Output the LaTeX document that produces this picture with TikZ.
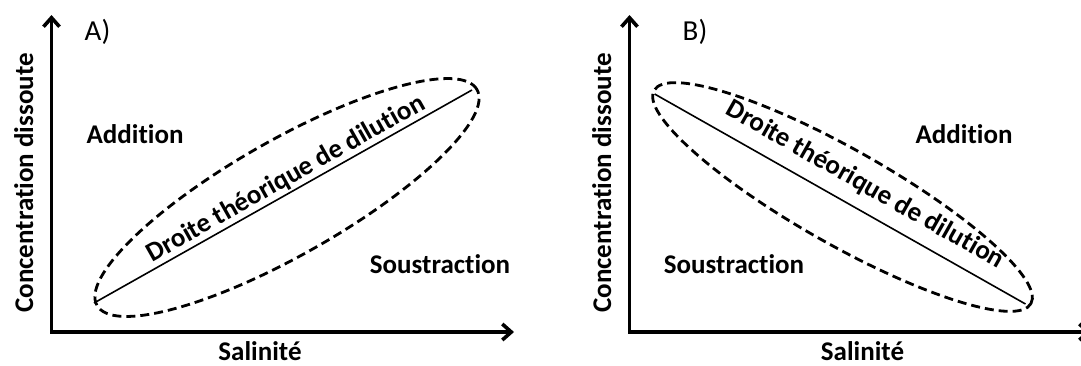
\documentclass[tikz,border=0pt]{standalone}
\usepackage{fontspec}
\setmainfont{Carlito}[Ligatures=NoCommon]
\usetikzlibrary{arrows.meta,shapes.geometric}
\begin{document}
\begin{tikzpicture}[x=1pt,y=-1pt,
  axis/.style={line width=3.6pt, line join=miter,
    {Straight Barb[length=9pt,width=16pt]}-{Straight Barb[length=9pt,width=16pt]}},
  lbl/.style={font=\fontsize{27}{32}\selectfont\bfseries, inner sep=0pt},
  panel/.style={font=\fontsize{29}{34}\selectfont, inner sep=0pt},
  envelope/.style={draw, ellipse, inner sep=0pt, line width=2.8pt,
    dash pattern=on 9pt off 5pt},
  dilution/.style={line width=1.6pt}
]
\clip (0,0) rectangle (1081,365);
\fill[white] (0,0) rectangle (1081,365);

% ---------- Panel A ----------
\coordinate (yA) at (51.5,15);
\coordinate (oA) at (51.5,332);
\coordinate (xA) at (514,332);
\draw[axis] (yA) -- (oA) -- (xA);
\node[panel, anchor=base] (labA) at (97.5,40) {A)};
\node[lbl, anchor=base, rotate=90] (ycA) at (33,183) {Concentration dissoute};
\node[lbl, anchor=base] (xcA) at (260,360) {Salinité};
\node[lbl, anchor=base] (addA) at (135,143.3) {Addition};
\node[lbl, anchor=base] (souA) at (440,273.3) {Soustraction};
\node[envelope, rotate=29.6, minimum width=437pt, minimum height=115pt] (eA) at (287,197.5) {};
\coordinate (a1) at (94,303);
\coordinate (a2) at (472,90);
\draw[dilution] (a1) -- (a2);
\node[lbl, rotate=29.4] (tA) at (286,179) {Droite théorique de dilution};

% ---------- Panel B ----------
\coordinate (yB) at (629.5,15);
\coordinate (oB) at (629.5,332);
\coordinate (xB) at (1091,332);
\draw[axis] (yB) -- (oB) -- (xB);
\node[panel, anchor=base] (labB) at (695,40) {B)};
\node[lbl, anchor=base, rotate=90] (ycB) at (611,183) {Concentration dissoute};
\node[lbl, anchor=base] (xcB) at (862.5,360) {Salinité};
\node[lbl, anchor=base] (addB) at (964,143.3) {Addition};
\node[lbl, anchor=base] (souB) at (734,273.3) {Soustraction};
\node[envelope, rotate=-29.5, minimum width=433pt, minimum height=95pt] (eB) at (842.5,197) {};
\coordinate (b1) at (654.6,94);
\coordinate (b2) at (1025.5,304);
\draw[dilution] (b1) -- (b2);
\node[lbl, rotate=-29.5] (tB) at (865,185) {Droite théorique de dilution};
\end{tikzpicture}
\end{document}
